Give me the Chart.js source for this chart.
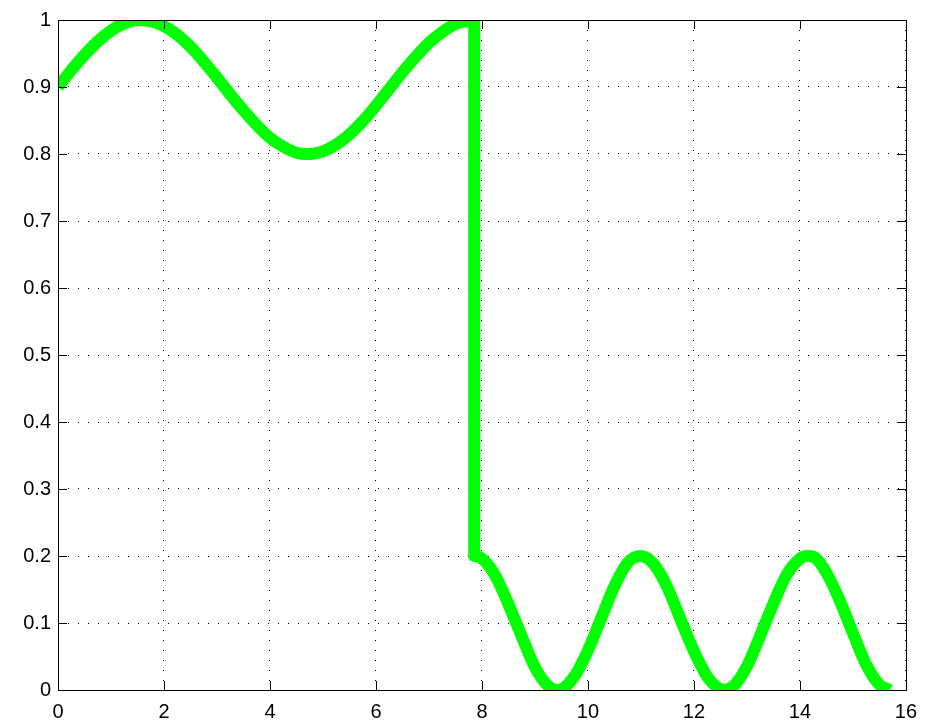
<!DOCTYPE html>
<html>
<head>
<meta charset="utf-8">
<script src="https://cdn.jsdelivr.net/npm/chart.js@4/dist/chart.umd.min.js"></script>
<style>
  body { margin: 0; background: #fff; }
  #wrap { width: 927px; height: 721px; }
</style>
</head>
<body>
<div id="wrap"><canvas id="myChart" width="927" height="721"></canvas></div>
<script>
// values
const xValues = [
  0, 0.25, 0.5, 0.75, 1, 1.25, 1.5, 1.75, 2, 2.25, 2.5, 2.75, 3, 3.25, 3.5, 3.75,
  4, 4.25, 4.5, 4.75, 5, 5.25, 5.5, 5.75, 6, 6.25, 6.5, 6.75, 7, 7.25, 7.5, 7.75, 7.854,
  7.854, 8, 8.25, 8.5, 8.75, 9, 9.25, 9.42, 9.5, 9.75, 10, 10.25, 10.5, 10.75, 11,
  11.25, 11.5, 11.75, 12, 12.25, 12.5, 12.57, 12.75, 13, 13.25, 13.5, 13.75, 14, 14.14,
  14.25, 14.5, 14.75, 15, 15.25, 15.5, 15.7
];
const yValues = [
  0.900, 0.925, 0.948, 0.968, 0.984, 0.995, 1.000, 0.998, 0.991, 0.978, 0.960, 0.938, 0.914, 0.889, 0.865, 0.843,
  0.824, 0.811, 0.802, 0.800, 0.804, 0.814, 0.829, 0.849, 0.872, 0.897, 0.922, 0.945, 0.966, 0.982, 0.994, 0.999, 1.000,
  0.200, 0.196, 0.171, 0.128, 0.080, 0.034, 0.006, 0.000, 0.001, 0.021, 0.059, 0.107, 0.155, 0.190, 0.200,
  0.187, 0.153, 0.105, 0.058, 0.020, 0.001, 0.000, 0.006, 0.035, 0.081, 0.129, 0.172, 0.196, 0.200,
  0.199, 0.175, 0.134, 0.085, 0.038, 0.008, 0.000
];
const xTicks = [0, 2, 4, 6, 8, 10, 12, 14, 16];
const yTicks = [0, 0.1, 0.2, 0.3, 0.4, 0.5, 0.6, 0.7, 0.8, 0.9, 1];
const yTickLabels = ['0', '0.1', '0.2', '0.3', '0.4', '0.5', '0.6', '0.7', '0.8', '0.9', '1'];

const points = xValues.map((x, i) => ({ x: x, y: yValues[i] }));

// matlab style box with inward ticks
const boxPlugin = {
  id: 'box',
  afterDraw(chart) {
    const ctx = chart.ctx;
    const a = chart.chartArea;
    const xs = chart.scales.x;
    const ys = chart.scales.y;
    const len = 9;
    ctx.save();
    ctx.strokeStyle = '#000';
    ctx.lineWidth = 1;
    ctx.beginPath();
    xs.ticks.forEach(t => {
      const px = Math.round(xs.getPixelForValue(t.value)) + 0.5;
      ctx.moveTo(px, a.bottom); ctx.lineTo(px, a.bottom - len);
      ctx.moveTo(px, a.top); ctx.lineTo(px, a.top + len);
    });
    ys.ticks.forEach(t => {
      const py = Math.round(ys.getPixelForValue(t.value)) + 0.5;
      ctx.moveTo(a.left, py); ctx.lineTo(a.left + len, py);
      ctx.moveTo(a.right, py); ctx.lineTo(a.right - len, py);
    });
    ctx.stroke();
    ctx.strokeRect(Math.round(a.left) + 0.5, Math.round(a.top) + 0.5,
      Math.round(a.right - a.left), Math.round(a.bottom - a.top));
    ctx.restore();
  }
};

const ctx = document.getElementById('myChart').getContext('2d');
const myChart = new Chart(ctx, {
  type: 'line',
  data: {
    datasets: [{
      data: points,
      borderColor: 'rgb(0,255,0)',
      borderWidth: 12,
      borderJoinStyle: 'round',
      borderCapStyle: 'butt',
      pointRadius: 0,
      cubicInterpolationMode: 'monotone',
      fill: false,
      clip: 0
    }]
  },
  options: {
    responsive: false,
    animation: false,
    plugins: { legend: { display: false }, tooltip: { enabled: false } },
    layout: { padding: { top: 20, right: 20, left: 0, bottom: 0 } },
    scales: {
      x: {
        type: 'linear',
        min: 0,
        max: 16,
        afterBuildTicks: s => { s.ticks = xTicks.map(v => ({ value: v })); },
        afterFit: s => { s.height = 31; },
        ticks: {
          color: '#000',
          font: { family: 'Liberation Sans, Arial, Helvetica', size: 20 },
          padding: 10,
          maxRotation: 0
        },
        grid: { color: '#000', lineWidth: 1, drawTicks: false },
        border: { display: false, dash: [1, 9] }
      },
      y: {
        type: 'linear',
        min: 0,
        max: 1,
        afterBuildTicks: s => { s.ticks = yTicks.map(v => ({ value: v })); },
        afterFit: s => { s.width = 58; },
        ticks: {
          color: '#000',
          font: { family: 'Liberation Sans, Arial, Helvetica', size: 20 },
          padding: 7,
          callback: v => yTickLabels[yTicks.indexOf(v)]
        },
        grid: { color: '#000', lineWidth: 1, drawTicks: false },
        border: { display: false, dash: [1, 9] }
      }
    }
  },
  plugins: [boxPlugin]
});
</script>
</body>
</html>
